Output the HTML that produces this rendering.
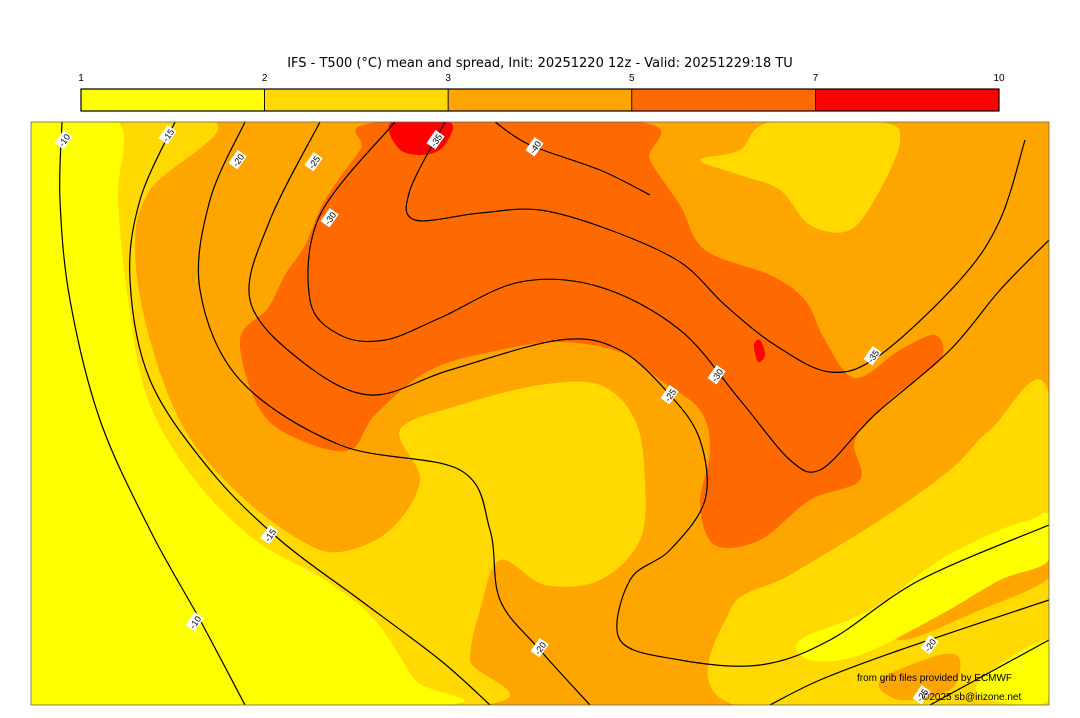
<!DOCTYPE html>
<html><head><meta charset="utf-8">
<style>
html,body{margin:0;padding:0;background:#fff;width:1080px;height:718px;overflow:hidden;position:relative;}
body{font-family:"Liberation Sans","DejaVu Sans",sans-serif;}
svg{display:block;position:absolute;left:0;top:0;}
</style></head>
<body>
<svg id="chart" width="1080" height="718" viewBox="0 0 1080 718" overflow="hidden" xmlns="http://www.w3.org/2000/svg">
<text x="540" y="67" text-anchor="middle" font-size="13" font-family="DejaVu Sans, sans-serif" fill="#000">IFS - T500 (°C) mean and spread, Init: 20251220 12z - Valid: 20251229:18 TU</text>
<g id="colorbar"></g>
<defs><clipPath id="mapclip"><rect x="31" y="122" width="1018" height="583"/></clipPath></defs>
<g id="map" clip-path="url(#mapclip)"></g>
<rect x="31" y="122" width="1018" height="583" fill="none" stroke="#666" stroke-width="0.8"/>
<text x="857" y="681" font-size="10" fill="#000">from grib files provided by ECMWF</text>
<text x="922" y="700" font-size="10" fill="#000">©2025 sb@irizone.net</text>
</svg>
<script>
const bounds = [1, 2, 3, 5, 7, 10];
const binColors = ["#ffff00", "#ffd900", "#ffa500", "#ff6a00", "#ff0000"];
const contourLevels = [-10, -15, -20, -25, -30, -35, -40];
const NS = "http://www.w3.org/2000/svg";
function mk(tag, attrs, parent){const e=document.createElementNS(NS,tag);for(const k in attrs)e.setAttribute(k,attrs[k]);parent.appendChild(e);return e;}
const cb = document.getElementById('colorbar');
const cbX0 = 81, cbX1 = 999, cbY = 89, cbH = 22;
const cbW = (cbX1 - cbX0) / (bounds.length - 1);
for (let i = 0; i < bounds.length - 1; i++) {
  const r = mk('rect', {x: cbX0 + i*cbW, y: cbY, width: cbW, height: cbH, fill: binColors[i], stroke: "#000", "stroke-width": 0.8}, cb);
  
  
}
for (let i = 0; i < bounds.length; i++) {
  const t = mk('text', {x: cbX0 + i*cbW, y: 81, "text-anchor": "middle", "font-size": 10, fill: "#000"}, cb);
  t.textContent = bounds[i];
  
  
}
mk('rect', {x: cbX0, y: cbY, width: cbX1-cbX0, height: cbH, fill: "none", stroke: "#000", "stroke-width": 1.2}, cb);

function smooth(pts, closed){
  const n=pts.length; let d="M"+pts[0][0]+","+pts[0][1];
  const g=i=>closed?pts[(i+n)%n]:pts[Math.max(0,Math.min(n-1,i))];
  const lim=closed?n:n-1;
  for(let i=0;i<lim;i++){const p0=g(i-1),p1=g(i),p2=g(i+1),p3=g(i+2);
    d+=" C"+(p1[0]+(p2[0]-p0[0])/6)+","+(p1[1]+(p2[1]-p0[1])/6)+" "+(p2[0]-(p3[0]-p1[0])/6)+","+(p2[1]-(p3[1]-p1[1])/6)+" "+p2[0]+","+p2[1];}
  return d+(closed?" Z":"");
}
const map = document.getElementById('map');
const bg = mk('rect',{x:31,y:122,width:1018,height:583,fill:binColors[2]},map);


const regions = [
 ["gold-left", 1, [[31,122],[215,122],[150,190],[135,250],[150,340],[185,430],[240,495],[300,540],[340,552],[390,530],[420,480],[400,430],[460,405],[540,385],[600,385],[635,420],[645,480],[640,540],[600,580],[545,585],[500,560],[480,610],[470,660],[480,705],[31,705]]],
 ["yellow-left", 0, [[31,122],[118,122],[118,200],[128,300],[148,400],[195,480],[255,540],[325,580],[375,620],[415,680],[440,705],[31,705]]],
 ["gold-topright", 1, [[700,160],[740,150],[770,122],[880,122],[900,140],[880,190],[850,230],[810,225],[780,190],[740,175]]],
 ["gold-right", 1, [[730,610],[790,575],[880,520],[950,470],[990,430],[1049,395],[1049,705],[735,705]]],
 ["orange-right-strip", 2, [[900,600],[1000,560],[1049,545],[1049,578],[980,610],[900,640]]],
 ["yellow-right", 0, [[800,640],[870,610],[940,560],[1000,530],[1030,520],[1049,515],[1049,560],[1000,580],[940,615],[860,655],[810,660]]],
 ["orange-bottom", 2, [[880,680],[940,655],[960,660],[950,690],[900,700]]],
 ["yellow-br", 0, [[980,680],[1049,640],[1049,700],[990,700]]],
 ["darkorange-band", 3, [[380,122],[640,122],[650,160],[680,205],[705,250],[770,275],[805,300],[825,340],[855,378],[900,350],[935,335],[940,360],[890,400],[855,440],[860,480],[810,500],[760,540],[715,545],[700,505],[710,450],[700,410],[660,380],[620,352],[560,342],[500,350],[430,370],[375,415],[350,450],[300,440],[260,410],[240,340],[268,308],[285,275],[305,245],[325,200],[360,150]]],
 ["red-top", 4, [[392,122],[450,122],[442,148],[420,155],[398,148]]],
 ["red-spot", 4, [[754,345],[760,340],[765,355],[758,362]]]
];
regions.forEach(r=>{
  const p = mk('path',{d:smooth(r[2],true),fill:binColors[r[1]]},map);
  
  
});
const contours = [
 [-10, [[62,122],[60,200],[70,300],[100,420],[150,530],[200,620],[245,705]], [[64,140],[195,622]]],
 [-15, [[175,122],[140,200],[130,280],[150,380],[210,470],[280,540],[360,600],[440,660],[490,705]], [[168,135],[270,535]]],
 [-20, [[245,122],[210,200],[200,290],[240,380],[340,445],[460,470],[490,530],[500,600],[540,650],[590,705]], [[238,160],[540,648]]],
 [-20, [[770,705],[820,680],[900,650],[1049,600]], [[930,645]]],
 [-25, [[320,122],[270,220],[250,300],[300,360],[370,395],[450,370],[560,340],[620,350],[670,395],[700,440],[705,500],[670,550],[630,580],[620,640],[680,660],[760,665],[830,640],[920,580],[1049,525]], [[314,162],[670,395]]],
 [-25, [[930,705],[1049,640]], [[922,695]]],
 [-30, [[395,122],[320,215],[310,300],[340,335],[385,340],[440,318],[520,282],[600,287],[680,330],[740,400],[790,460],[820,470],[860,430],[880,410],[950,350],[1000,290],[1049,240]], [[330,218],[717,375]]],
 [-35, [[445,122],[410,190],[415,220],[480,213],[540,210],[610,230],[680,262],[725,305],[775,345],[830,372],[880,355],[960,280],[1000,220],[1025,140]], [[436,140],[873,356]]],
 [-40, [[495,122],[530,145],[600,170],[650,195]], [[535,147]]]
];
contours.forEach((c,i)=>{
  const p = mk('path',{d:smooth(c[1],false),fill:"none",stroke:"#000","stroke-width":1.2},map);
  
  
  c[2].forEach(l=>{
    const g = mk('g',{transform:"translate("+l[0]+","+l[1]+") rotate(-55)"},map);
    
    
    mk('rect',{x:-8,y:-6,width:16,height:11,fill:"#fff"},g);
    const t = mk('text',{x:0,y:3.5,"text-anchor":"middle","font-size":9,fill:"#000"},g);
    t.textContent = c[0];
  });
});
</script>
</body></html>
